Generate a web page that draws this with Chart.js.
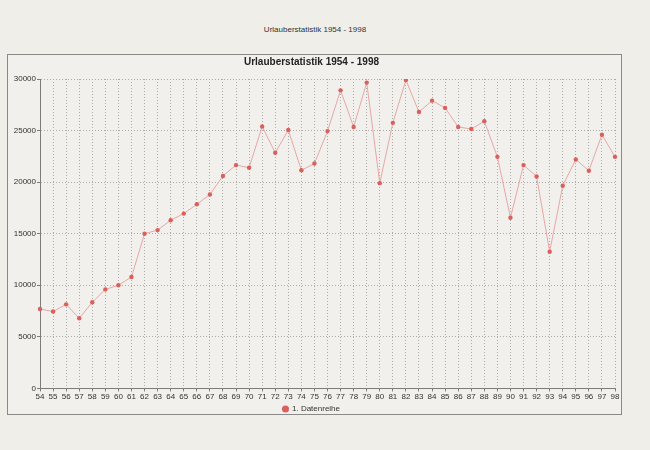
<!DOCTYPE html>
<html>
<head>
<meta charset="UTF-8">
<title>Urlauberstatistik 1954 - 1998</title>
<script src="https://cdn.jsdelivr.net/npm/chart.js"></script>
<style>
  body {
    margin: 0;
    width: 650px;
    height: 450px;
    background-color: #efeee9;
    font-family: "Liberation Sans", Arial, sans-serif;
    position: relative;
    overflow: hidden;
  }
  .page-title {
    position: absolute;
    left: 0;
    width: 630px;
    top: 25px;
    text-align: center;
    font-size: 8px;
    color: #333;
  }
  .chart-box {
    position: absolute;
    left: 7px;
    top: 54px;
    width: 613px;
    height: 359px;
    border: 1px solid #8a8a88;
    background-color: #f1f0ec;
    overflow: hidden;
  }
  canvas {
    position: absolute;
    left: 0;
    top: 0;
  }
</style>
</head>
<body>
<div class="page-title">Urlauberstatistik 1954 - 1998</div>
<div class="chart-box">
  <!-- canvas is a bit taller than the box; the empty space under the legend is clipped -->
  <canvas id="urlauberChart" width="613" height="370"></canvas>
</div>
<script>
  // Jahre (x-Achse) und Urlauberzahlen
  const years = ['54', '55', '56', '57', '58', '59', '60', '61', '62', '63',
                 '64', '65', '66', '67', '68', '69', '70', '71', '72', '73',
                 '74', '75', '76', '77', '78', '79', '80', '81', '82', '83',
                 '84', '85', '86', '87', '88', '89', '90', '91', '92', '93',
                 '94', '95', '96', '97', '98'];
  const visitors = [7700, 7450, 8150, 6800, 8350, 9600, 10000, 10800, 15000, 15350,
                    16300, 16950, 17850, 18800, 20600, 21650, 21400, 25400, 22850, 25050,
                    21150, 21800, 24950, 28900, 25350, 29650, 19900, 25750, 29900, 26800,
                    27900, 27200, 25350, 25150, 25900, 22450, 16550, 21650, 20550, 13250,
                    19650, 22200, 21100, 24600, 22450];
  const seriesName = '1. Datenreihe';
  const chartTitle = 'Urlauberstatistik 1954 - 1998';

  const fontFamily = '"Liberation Sans", Arial, sans-serif';
  const gridColor = '#acacaa';
  const axisColor = '#7c7c7a';

  const ctx = document.getElementById('urlauberChart').getContext('2d');
  const urlauberChart = new Chart(ctx, {
    type: 'line',
    data: {
      labels: years,
      datasets: [{
        label: seriesName,
        data: visitors,
        borderColor: '#e6a7a5',
        borderWidth: 1,
        backgroundColor: '#d9605c',
        pointBackgroundColor: '#d9605c',
        pointBorderColor: '#d9605c',
        pointRadius: 2.2,
        pointBorderWidth: 0,
        tension: 0,
        fill: false
      }]
    },
    options: {
      responsive: false,
      animation: false,
      layout: {
        padding: { left: 0, right: 6, top: 0, bottom: 2 }
      },
      plugins: {
        title: {
          display: true,
          text: chartTitle,
          color: '#222',
          font: { family: fontFamily, size: 10, weight: 'bold' },
          padding: { top: 1, bottom: 11 }
        },
        legend: {
          position: 'bottom',
          labels: {
            color: '#333',
            font: { family: fontFamily, size: 8 },
            usePointStyle: true,
            pointStyle: 'circle',
            boxWidth: 5,
            boxHeight: 5,
            padding: 2
          }
        },
        tooltip: { enabled: false }
      },
      scales: {
        x: {
          offset: false,
          grid: {
            color: gridColor,
            lineWidth: 1,
            tickLength: 3,
            tickColor: axisColor,
            tickBorderDash: []
          },
          border: { color: axisColor, dash: [1, 2] },
          ticks: {
            color: '#333',
            font: { family: fontFamily, size: 8 },
            maxRotation: 0,
            autoSkip: false,
            padding: 1
          }
        },
        y: {
          min: 0,
          max: 30000,
          grid: {
            color: gridColor,
            lineWidth: 1,
            tickLength: 3,
            tickColor: axisColor,
            tickBorderDash: []
          },
          border: { color: axisColor, dash: [1, 2] },
          ticks: {
            stepSize: 5000,
            color: '#333',
            font: { family: fontFamily, size: 8 },
            padding: 1,
            callback: value => String(value)
          },
          afterFit: scale => { scale.width = 32; }
        }
      }
    }
  });
</script>
</body>
</html>
